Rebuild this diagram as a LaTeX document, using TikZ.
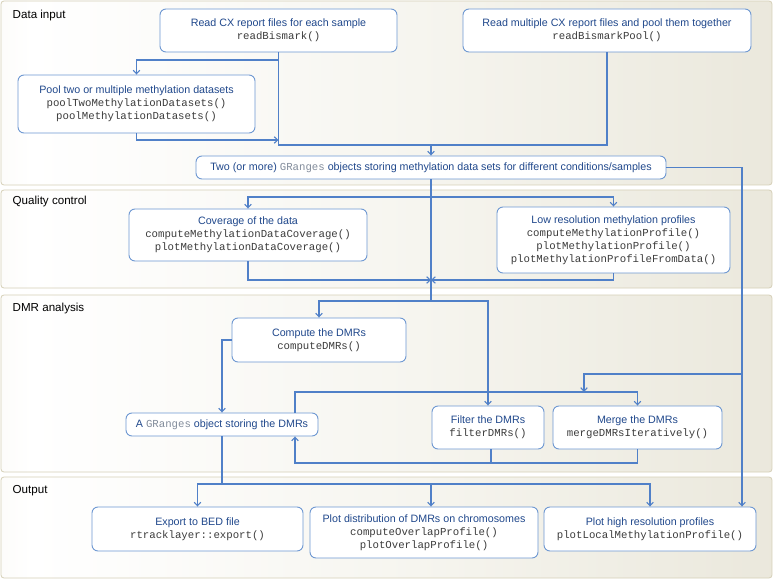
\documentclass[tikz,border=0pt]{standalone}
\usepackage{fontspec}
\setmainfont{Liberation Sans}
\setmonofont{Liberation Mono}
\usetikzlibrary{arrows.meta,calc}
\definecolor{titleblue}{RGB}{32,72,140}
\definecolor{codegray}{RGB}{60,60,60}
\definecolor{grgray}{RGB}{130,140,155}
\definecolor{boxblue}{RGB}{110,152,210}
\definecolor{lineblue}{RGB}{80,128,200}
\definecolor{panelL}{RGB}{218,212,190}
\definecolor{panelM}{RGB}{246,245,239}
\definecolor{panelR}{RGB}{222,218,200}
\definecolor{panelborder}{RGB}{214,208,184}
\pgfdeclarehorizontalshading{panelshade}{100bp}{color(0bp)=(panelL); color(27bp)=(white); color(52bp)=(panelM); color(100bp)=(panelR)}
\newcommand{\codetxt}[1]{{\ttfamily\color{codegray}#1}}
\newcommand{\grtxt}{{\ttfamily\color{grgray}GRanges}}
\tikzset{
  panel/.style={shading=panelshade, draw=panelborder, line width=0.8pt, rounded corners=3pt},
  lbl/.style={anchor=base west, inner sep=0pt, font=\fontsize{11.6}{14}\selectfont, text=black},
  box/.style={draw=boxblue, line width=0.9pt, rounded corners=6pt, fill=white, align=center,
    inner sep=0pt, text=titleblue, font=\fontsize{10.7}{13}\selectfont},
  line/.style={draw=lineblue, line width=1.1pt},
  arr/.style={line, -{Straight Barb[length=3.5pt,width=6.5pt]}}
}
\begin{document}
\begin{tikzpicture}[x=1pt,y=-1pt]
\useasboundingbox (0,0) rectangle (774,580);
\fill[white] (0,0) rectangle (774,580);
% panels
\path[panel] (1,1) rectangle (772,185);
\path[panel] (1,190) rectangle (772,288);
\path[panel] (1,295) rectangle (772,472);
\path[panel] (1,477) rectangle (772,578);
\node[lbl] (l1) at (12.5,19) {Data input};
\node[lbl] (l2) at (12.5,205) {Quality control};
\node[lbl] (l3) at (12.5,311) {DMR analysis};
\node[lbl] (l4) at (12.5,493) {Output};
% boxes
\node[box, minimum width=237pt, minimum height=43pt] (rb) at (278.5,30.5)
  {Read CX report files for each sample\\\codetxt{readBismark()}};
\node[box, minimum width=288pt, minimum height=43pt] (rbp) at (607,30.5)
  {Read multiple CX report files and pool them together\\\codetxt{readBismarkPool()}};
\node[box, minimum width=237pt, minimum height=58pt] (pool) at (136.5,104)
  {Pool two or multiple methylation datasets\\\codetxt{poolTwoMethylationDatasets()}\\\codetxt{poolMethylationDatasets()}};
\node[box, minimum width=470pt, minimum height=23pt] (gr) at (431,167.5)
  {Two (or more) \grtxt{} objects storing methylation data sets for different conditions/samples};
\node[box, minimum width=238pt, minimum height=52pt] (cov) at (248,235)
  {Coverage of the data\\\codetxt{computeMethylationDataCoverage()}\\\codetxt{plotMethylationDataCoverage()}};
\node[box, minimum width=233pt, minimum height=66pt] (low) at (613.5,240)
  {Low resolution methylation profiles\\\codetxt{computeMethylationProfile()}\\\codetxt{plotMethylationProfile()}\\\codetxt{plotMethylationProfileFromData()}};
\node[box, minimum width=174pt, minimum height=44pt] (cmp) at (319,340)
  {Compute the DMRs\\\codetxt{computeDMRs()}};
\node[box, minimum width=192pt, minimum height=23pt] (gd) at (222,424.5)
  {A \grtxt{} object storing the DMRs};
\node[box, minimum width=112pt, minimum height=43pt] (flt) at (488,427.5)
  {Filter the DMRs\\\codetxt{filterDMRs()}};
\node[box, minimum width=169pt, minimum height=43pt] (mrg) at (637.5,427.5)
  {Merge the DMRs\\\codetxt{mergeDMRsIteratively()}};
\node[box, minimum width=211pt, minimum height=44pt] (exp) at (197.5,529)
  {Export to BED file\\\codetxt{rtracklayer::export()}};
\node[box, minimum width=228pt, minimum height=51pt] (dist) at (424,532.5)
  {Plot distribution of DMRs on chromosomes\\\codetxt{computeOverlapProfile()}\\\codetxt{plotOverlapProfile()}};
\node[box, minimum width=212pt, minimum height=44pt] (hr) at (650,529)
  {Plot high resolution profiles\\\codetxt{plotLocalMethylationProfile()}};
% connectors: data input
\draw[line] (rb.south) |- (rbp.south |- 0,145) -- (rbp.south);
\draw[arr] (rb.south |- 0,60) -| (pool.north);
\draw[arr] (pool.south) |- (rb.south |- 0,140);
\draw[arr] (gr.north |- 0,145) -- (gr.north);
\draw[line] (gr.south) -- (gr.south |- 0,301);
\draw[arr] (gr.east) -| (hr.north -| 742,0);
% quality control
\draw[arr] (gr.south |- 0,197) -| (cov.north);
\draw[arr] (gr.south |- 0,197) -| (low.north);
\draw[arr] (cov.south) |- (gr.south |- 0,280);
\draw[arr] (low.south) |- (gr.south |- 0,280);
% DMR analysis
\draw[arr] (gr.south |- 0,301) -| (cmp.north);
\draw[arr] (gr.south |- 0,301) -| (flt.north);
\draw[arr] (cmp.west) -| (gd.north);
\draw[arr] (gd.north -| 295,0) |- (mrg.north |- 0,392) -- (mrg.north);
\coordinate (m1) at (742,374);
\coordinate (m2) at (584,392);
\draw[arr] (m1) -| (m2);
\coordinate (b1) at (295,463);
\draw[arr] (mrg.south) |- (b1) -- (gd.south -| b1);
\draw[line] (flt.south -| 491,0) -- (491,463);
% output
\draw[line] (gd.south) -- (gd.south |- 0,484);
\draw[arr] (gd.south |- 0,484) -| (exp.north);
\draw[arr] (gd.south |- 0,484) -| (hr.north);
\draw[arr] (gr.south |- 0,484) -- (dist.north -| gr.south);
\end{tikzpicture}
\end{document}
